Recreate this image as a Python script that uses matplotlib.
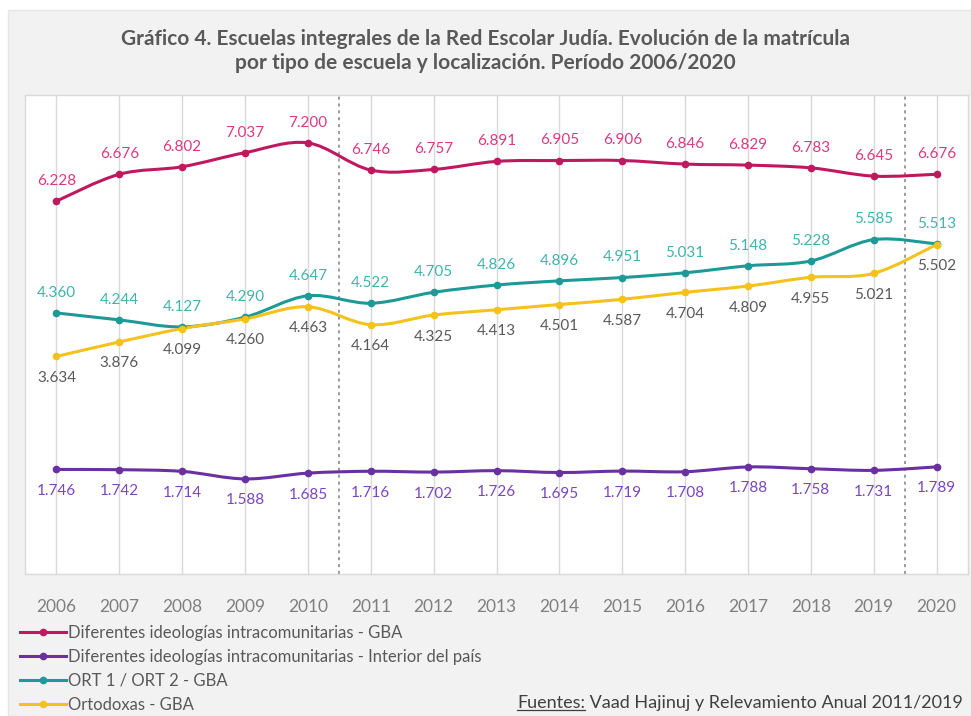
import numpy as np
import matplotlib
matplotlib.use("Agg")
import matplotlib.pyplot as plt
from matplotlib.path import Path
from matplotlib.patches import PathPatch, Rectangle
from matplotlib.lines import Line2D

plt.rcParams['font.family'] = ['Lato', 'DejaVu Sans']

# --- data -------------------------------------------------------------
years = ["2006", "2007", "2008", "2009", "2010", "2011", "2012", "2013",
         "2014", "2015", "2016", "2017", "2018", "2019", "2020"]

dif_gba = [6228, 6676, 6802, 7037, 7200, 6746, 6757, 6891, 6905, 6906,
           6846, 6829, 6783, 6645, 6676]
dif_interior = [1746, 1742, 1714, 1588, 1685, 1716, 1702, 1726, 1695, 1719,
                1708, 1788, 1758, 1731, 1789]
ort_gba = [4360, 4244, 4127, 4290, 4647, 4522, 4705, 4826, 4896, 4951,
           5031, 5148, 5228, 5585, 5513]
ortodoxas_gba = [3634, 3876, 4099, 4260, 4463, 4164, 4325, 4413, 4501, 4587,
                 4704, 4809, 4955, 5021, 5502]

series_names = ["Diferentes ideologías intracomunitarias - GBA",
                "Diferentes ideologías intracomunitarias - Interior del país",
                "ORT 1 / ORT 2 - GBA",
                "Ortodoxas - GBA"]

title = ("Gráfico 4. Escuelas integrales de la Red Escolar Judía. Evolución de la matrícula\n"
         "por tipo de escuela y localización. Período 2006/2020")
source_head = "Fuentes:"
source_body = " Vaad Hajinuj y Relevamiento Anual 2011/2019"

# --- styles -----------------------------------------------------------
styles = [
    # (values, line colour, label colour, label above?)
    (dif_gba, "#c0185f", "#d93a82", True),
    (dif_interior, "#6a2fa0", "#7a45c0", False),
    (ort_gba, "#1d9a98", "#3fb3ad", True),
    (ortodoxas_gba, "#f4c21b", "#595959", False),
]


def smooth_path(xs, ys):
    """Catmull-Rom spline through the points, as cubic Bezier segments."""
    pts = np.column_stack([xs, ys]).astype(float)
    n = len(pts)
    verts = [pts[0]]
    codes = [Path.MOVETO]
    for i in range(n - 1):
        p0 = pts[i - 1] if i > 0 else pts[i]
        p1 = pts[i]
        p2 = pts[i + 1]
        p3 = pts[i + 2] if i + 2 < n else pts[i + 1]
        c1 = p1 + (p2 - p0) / 6.0
        c2 = p2 - (p3 - p1) / 6.0
        verts += [c1, c2, p2]
        codes += [Path.CURVE4] * 3
    return Path(verts, codes)


fig = plt.figure(figsize=(9.71, 7.16), dpi=100, facecolor="white")
# grey panel behind the chart
fig.add_artist(Rectangle((8 / 971, 0), 1, 1 - 10 / 716, transform=fig.transFigure,
                         facecolor="#f2f2f2", edgecolor="#e6e6e6", lw=1, zorder=-10))

ax = fig.add_axes([25 / 971, 1 - 574 / 716, (968 - 25) / 971, (574 - 95) / 716])
ax.set_facecolor("white")

x = np.arange(len(years))
ax.set_xlim(-0.5, len(years) - 0.5)
ax.set_ylim(0, 8000)

for vals, lc, tc, above in styles:
    ax.add_patch(PathPatch(smooth_path(x, vals), facecolor="none", edgecolor=lc,
                           lw=2.2, zorder=3, capstyle="round", joinstyle="round"))
    ax.plot(x, vals, linestyle="none", marker="o", ms=4.5, color=lc, zorder=4)
    for xi, v in zip(x, vals):
        ax.annotate(f"{v:,}".replace(",", "."), (xi, v),
                    xytext=(0, 14.5 if above else -15.5), textcoords="offset points",
                    ha="center", va="center", fontsize=11, color=tc, zorder=5)

# separators between periods
for xv in (4.5, 13.5):
    ax.axvline(xv, color="#808080", lw=1.1, ls=(0, (2, 2.5)), zorder=2)

ax.set_xticks(x)
ax.set_xticklabels(years, fontsize=12.5, color="#7f7f7f")
ax.tick_params(axis="x", length=0, pad=18)
ax.set_yticks([])
ax.grid(axis="x", color="#d9d9d9", lw=1, zorder=1)
for s in ax.spines.values():
    s.set_color("#d9d9d9")
    s.set_linewidth(1)

fig.text(0.5, 1 - 51 / 716, title, ha="center", va="center", fontsize=15,
         fontweight="bold", color="#595959", linespacing=1.3)

handles = [Line2D([], [], color=lc, lw=2.2, marker="o", ms=4.5)
           for _, lc, _, _ in styles]
fig.legend(handles, series_names, loc="upper left",
           bbox_to_anchor=(20 / 971, 1 - 625 / 716), frameon=False,
           fontsize=12, labelcolor="#595959", handlelength=2.75,
           handletextpad=0.12, labelspacing=0.47, borderaxespad=0, borderpad=0)

# source note with underlined heading
t1 = fig.text(517 / 971, 1 - 703 / 716, source_head, ha="left", va="center",
              fontsize=13, color="#404040")
fig.canvas.draw()
bb = t1.get_window_extent()
fig.add_artist(Line2D([bb.x0 / 971, bb.x1 / 971],
                      [(bb.y0 + 1) / 716, (bb.y0 + 1) / 716],
                      transform=fig.transFigure, color="#404040", lw=0.9))
fig.text(bb.x1 / 971, 1 - 703 / 716, source_body, ha="left", va="center",
         fontsize=13, color="#404040")

fig.savefig("out.png", dpi=100, facecolor=fig.get_facecolor())
